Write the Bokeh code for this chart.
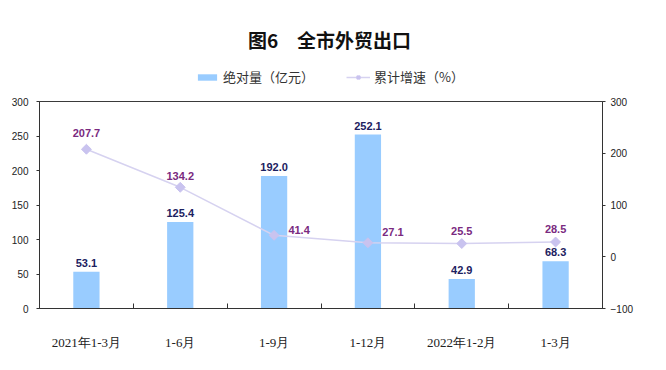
import math
from bokeh.plotting import figure
from bokeh.layouts import column
from bokeh.models import (Range1d, LinearAxis, FixedTicker, ColumnDataSource, LabelSet,
                          Legend, LegendItem, Label)
from bokeh.core.properties import value
from bokeh.embed import file_html
from bokeh.resources import INLINE

categories = ["2021年1-3月", "1-6月", "1-9月", "1-12月", "2022年1-2月", "1-3月"]
amount = [53.1, 125.4, 192.0, 252.1, 42.9, 68.3]          # 绝对量（亿元）
growth = [207.7, 134.2, 41.4, 27.1, 25.5, 28.5]           # 累计增速（%）
left_ticks = [0, 50, 100, 150, 200, 250, 300]
right_ticks = [-100, 0, 100, 200, 300]

# label offsets (style only)
growth_dx = [0, 0, 25, 25, 0, 0]
growth_dy = [12, 7, 1, 7, 9, 9]

BAR_COLOR = "#99ccff"
LINE_COLOR = "#d6d2f0"
MARK_COLOR = "#c9c3ef"

xs = [i + 0.5 for i in range(len(categories))]
src = ColumnDataSource(dict(
    x=xs, amount=amount, growth=growth,
    amount_lbl=[f"{v:.1f}" for v in amount],
    growth_lbl=[f"{v:.1f}" for v in growth],
    gdx=growth_dx, gdy=growth_dy,
))

# ---------------- header: title + legend (same series, drawn out of view) ----------------
h = figure(width=650, height=93, output_backend="svg", toolbar_location=None,
           x_range=Range1d(100, 101), y_range=Range1d(1000, 1001),
           x_axis_type=None, y_axis_type=None,
           min_border_left=0, min_border_right=0, min_border_top=0, min_border_bottom=0)
h.grid.visible = False
h.outline_line_color = None
h.add_layout(Label(x=290, y=54, x_units="screen", y_units="screen",
                   text="图6　全市外贸出口", text_align="center", text_baseline="middle",
                   text_font="Noto Sans CJK SC", text_font_size="19px",
                   text_font_style="bold", text_color="#111111"))
lb = h.vbar(x="x", top="amount", width=0.28, source=src, color=BAR_COLOR, line_color=None)
ll = h.line(x="x", y="growth", source=src, line_color=LINE_COLOR, line_width=1.5)
lm = h.scatter(x="x", y="growth", source=src, marker="square", angle=math.pi / 4, size=7,
               fill_color=MARK_COLOR, line_color=MARK_COLOR)
legend = Legend(items=[LegendItem(label="绝对量（亿元）", renderers=[lb]),
                       LegendItem(label="累计增速（%）", renderers=[ll, lm])],
                orientation="horizontal", location=(156, 7),
                label_text_font="Noto Sans CJK SC", label_text_font_size="13px",
                label_text_color="#333333", glyph_width=24, glyph_height=8,
                label_standoff=4, spacing=32, border_line_color=None,
                background_fill_alpha=0, margin=0, padding=2)
h.add_layout(legend, "center")

# ---------------- main chart ----------------
p = figure(width=650, height=261, output_backend="svg", toolbar_location=None,
           x_range=Range1d(0, len(categories)), y_range=Range1d(0, 300),
           min_border_left=39, min_border_right=48, min_border_bottom=46, min_border_top=8)
p.extra_y_ranges = {"r": Range1d(-100, 300)}
p.grid.visible = False
p.outline_line_color = "#3a3a3a"
p.outline_line_width = 1

p.vbar(x="x", top="amount", width=0.28, source=src, color=BAR_COLOR, line_color=None)
p.line(x="x", y="growth", source=src, y_range_name="r", line_color=LINE_COLOR, line_width=1.5)
p.scatter(x="x", y="growth", source=src, y_range_name="r", marker="square",
          angle=math.pi / 4, size=7, fill_color=MARK_COLOR, line_color=MARK_COLOR)

p.add_layout(LabelSet(x="x", y="amount", text="amount_lbl", source=src, y_offset=5,
                      text_align="center", text_baseline="bottom",
                      text_font=value("Liberation Sans"),
                      text_font_style="bold", text_font_size="11px", text_color="#1c2160"))
p.add_layout(LabelSet(x="x", y="growth", text="growth_lbl", source=src, y_range_name="r",
                      x_offset="gdx", y_offset="gdy",
                      text_align="center", text_baseline="bottom",
                      text_font=value("Liberation Sans"),
                      text_font_style="bold", text_font_size="11px", text_color="#7a2a80"))

xa = p.xaxis[0]
xa.ticker = FixedTicker(ticks=xs, minor_ticks=[1, 2, 3, 4, 5])
xa.major_label_overrides = {x: c for x, c in zip(xs, categories)}
xa.major_tick_line_color = None
xa.minor_tick_in = 5
xa.minor_tick_out = 0
xa.minor_tick_line_color = "#333333"
xa.axis_line_color = "#333333"
xa.major_label_text_font = "Liberation Serif"
xa.major_label_text_font_size = "13px"
xa.major_label_text_color = "#222222"
xa.major_label_standoff = 20

ya = p.yaxis[0]
ya.ticker = FixedTicker(ticks=left_ticks)
ya.minor_tick_line_color = None
ya.major_tick_in = 0
ya.major_tick_out = 3
ya.axis_line_color = "#333333"
ya.major_tick_line_color = "#333333"
ya.major_label_text_font = "Liberation Sans"
ya.major_label_text_font_size = "10px"
ya.major_label_text_color = "#222222"
ya.major_label_standoff = 8

ra = LinearAxis(y_range_name="r", ticker=FixedTicker(ticks=right_ticks))
ra.minor_tick_line_color = None
ra.major_tick_in = 0
ra.major_tick_out = 3
ra.axis_line_color = "#333333"
ra.major_tick_line_color = "#333333"
ra.major_label_text_font = "Liberation Sans"
ra.major_label_text_font_size = "10px"
ra.major_label_text_color = "#222222"
ra.major_label_standoff = 5
p.add_layout(ra, "right")

open("out.html", "w").write(file_html(column(h, p, spacing=0), INLINE))
